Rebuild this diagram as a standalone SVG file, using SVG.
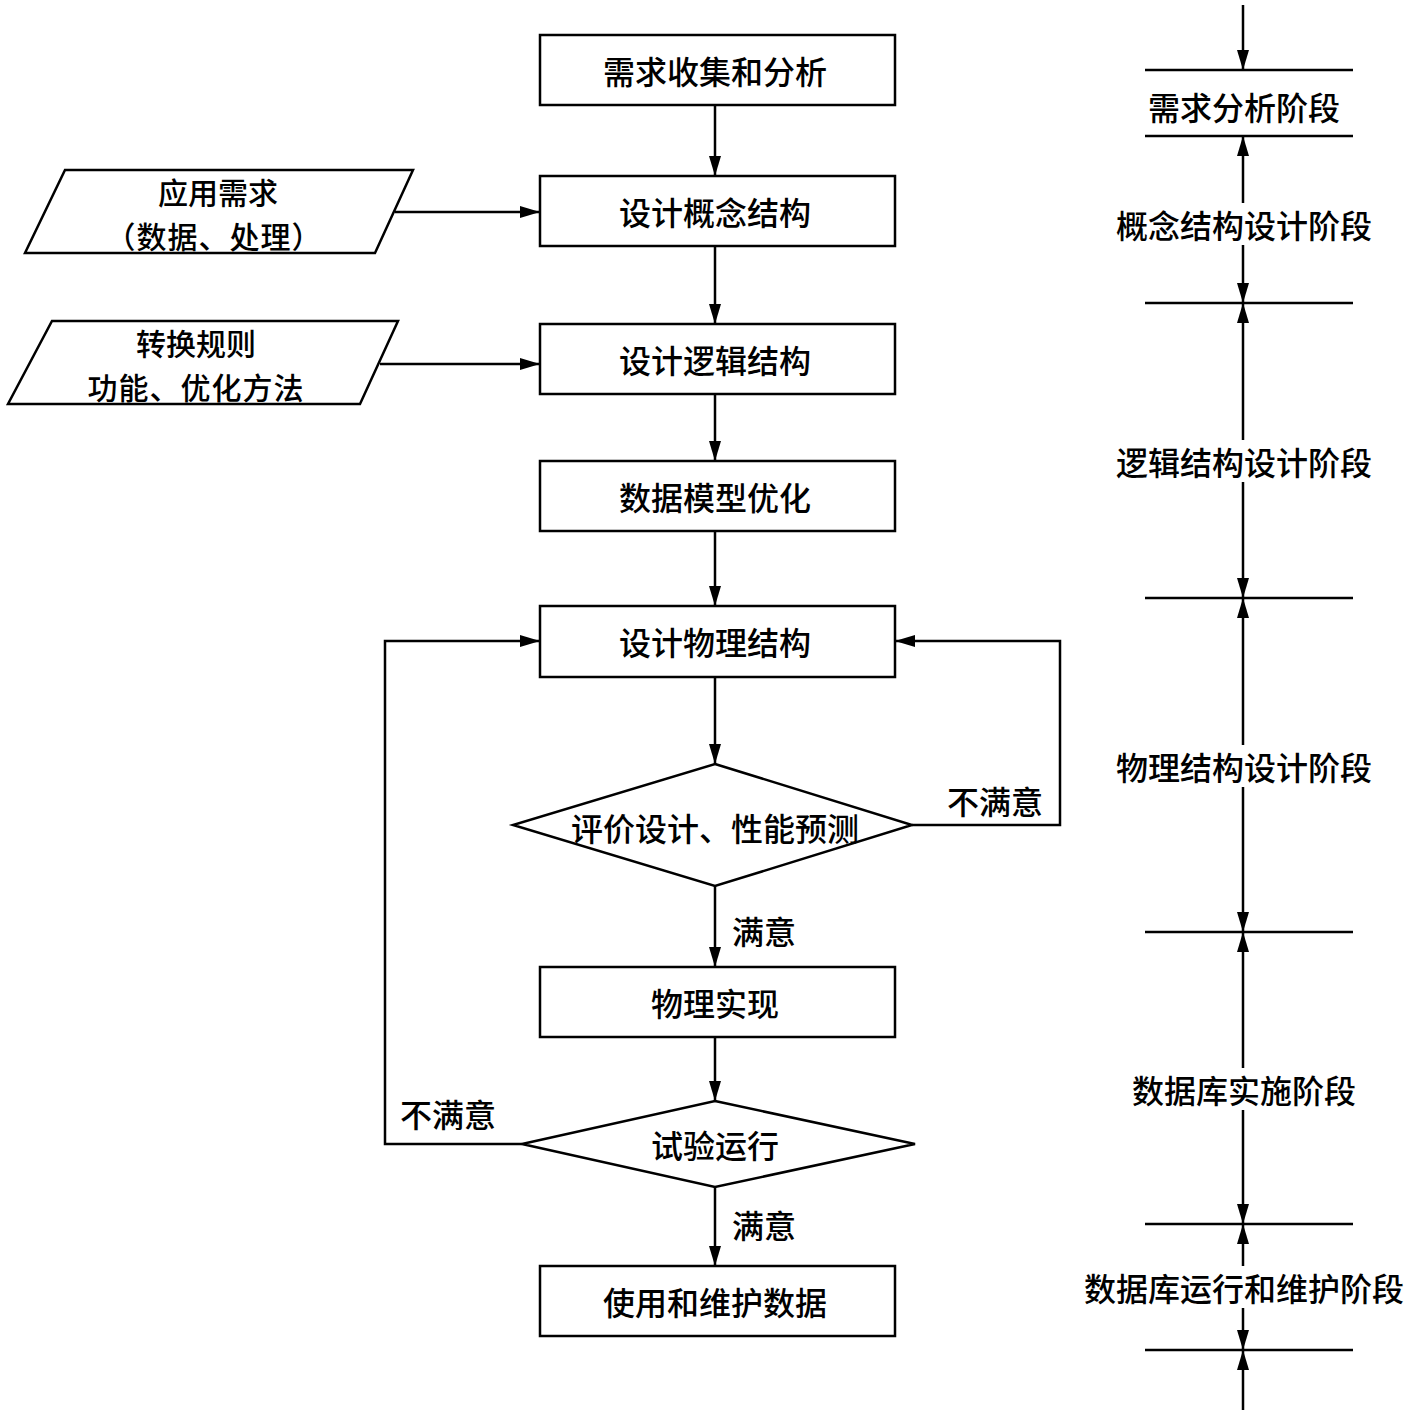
<svg xmlns="http://www.w3.org/2000/svg" width="1417" height="1410" viewBox="0 0 1417 1410">
<style>
.s{fill:#fff;stroke:#000;stroke-width:2.5}
.t{font-family:"Noto Sans CJK SC","Noto Sans",sans-serif;font-size:32px;font-weight:500;fill:#000;text-anchor:middle;dominant-baseline:central}
.p{font-size:30px}
.l{fill:none;stroke:#000;stroke-width:2.5}
.a{fill:none;stroke:#000;stroke-width:2.5;marker-end:url(#ah)}
</style>
<defs>
<marker id="ah" markerUnits="userSpaceOnUse" markerWidth="22" markerHeight="14" refX="20" refY="6" orient="auto"><path d="M0,0 L20,6 L0,12 z" fill="#000"/></marker>
</defs>
<rect width="1417" height="1410" fill="#fff"/>
<g id="connectors">
<line class="a" x1="715" y1="105" x2="715" y2="176"/>
<line class="a" x1="715" y1="246" x2="715" y2="324"/>
<line class="a" x1="715" y1="394" x2="715" y2="461"/>
<line class="a" x1="715" y1="531" x2="715" y2="606"/>
<line class="a" x1="715" y1="677" x2="715" y2="764"/>
<line class="a" x1="715" y1="886" x2="715" y2="967"/>
<line class="a" x1="715" y1="1037" x2="715" y2="1101"/>
<line class="a" x1="715" y1="1187" x2="715" y2="1266"/>
<line class="a" x1="395" y1="212" x2="540" y2="212"/>
<line class="a" x1="380" y1="364" x2="540" y2="364"/>
<polyline class="a" points="912,825 1060,825 1060,641 895,641"/>
<polyline class="a" points="522,1144 385,1144 385,641 540,641"/>
<text class="t" x="995" y="800">不满意</text>
<text class="t" x="448" y="1113">不满意</text>
<text class="t" x="764" y="930">满意</text>
<text class="t" x="764" y="1224">满意</text>
</g>
<g id="n1"><rect class="s" x="540" y="35" width="355" height="70"/><text class="t" x="715" y="70">需求收集和分析</text></g>
<g id="n2"><rect class="s" x="540" y="176" width="355" height="70"/><text class="t" x="715" y="211">设计概念结构</text></g>
<g id="n3"><rect class="s" x="540" y="324" width="355" height="70"/><text class="t" x="715" y="359">设计逻辑结构</text></g>
<g id="n4"><rect class="s" x="540" y="461" width="355" height="70"/><text class="t" x="715" y="496">数据模型优化</text></g>
<g id="n5"><rect class="s" x="540" y="606" width="355" height="71"/><text class="t" x="715" y="641">设计物理结构</text></g>
<g id="d1"><polygon class="s" points="715,764 912,825 715,886 513,825"/><text class="t" x="715" y="827">评价设计、性能预测</text></g>
<g id="n6"><rect class="s" x="540" y="967" width="355" height="70"/><text class="t" x="715" y="1002">物理实现</text></g>
<g id="d2"><polygon class="s" points="715,1101 915,1144 715,1187 522,1144"/><text class="t" x="715" y="1144">试验运行</text></g>
<g id="n7"><rect class="s" x="540" y="1266" width="355" height="70"/><text class="t" x="715" y="1301">使用和维护数据</text></g>
<g id="p1"><polygon class="s" points="65,170 413,170 375,253 25,253"/><text class="t p"><tspan x="218" y="191">应用需求</tspan><tspan x="214" y="235" letter-spacing="1">（数据、处理）</tspan></text></g>
<g id="p2"><polygon class="s" points="52,321 398,321 360,404 8,404"/><text class="t p"><tspan x="196" y="342">转换规则</tspan><tspan x="196" y="386" letter-spacing="1">功能、优化方法</tspan></text></g>
<g id="stages">
<line class="l" x1="1145" y1="70" x2="1353" y2="70"/>
<line class="l" x1="1145" y1="136" x2="1353" y2="136"/>
<line class="l" x1="1145" y1="303" x2="1353" y2="303"/>
<line class="l" x1="1145" y1="598" x2="1353" y2="598"/>
<line class="l" x1="1145" y1="932" x2="1353" y2="932"/>
<line class="l" x1="1145" y1="1224" x2="1353" y2="1224"/>
<line class="l" x1="1145" y1="1350" x2="1353" y2="1350"/>
<line class="a" x1="1243" y1="5" x2="1243" y2="70"/>
<line class="a" x1="1243" y1="203" x2="1243" y2="136"/>
<line class="a" x1="1243" y1="245" x2="1243" y2="303"/>
<line class="a" x1="1243" y1="440" x2="1243" y2="303"/>
<line class="a" x1="1243" y1="482" x2="1243" y2="598"/>
<line class="a" x1="1243" y1="745" x2="1243" y2="598"/>
<line class="a" x1="1243" y1="787" x2="1243" y2="932"/>
<line class="a" x1="1243" y1="1068" x2="1243" y2="932"/>
<line class="a" x1="1243" y1="1110" x2="1243" y2="1224"/>
<line class="a" x1="1243" y1="1266" x2="1243" y2="1224"/>
<line class="a" x1="1243" y1="1308" x2="1243" y2="1350"/>
<line class="a" x1="1243" y1="1410" x2="1243" y2="1350"/>
<text class="t" x="1244" y="106">需求分析阶段</text>
<text class="t" x="1244" y="224">概念结构设计阶段</text>
<text class="t" x="1244" y="461">逻辑结构设计阶段</text>
<text class="t" x="1244" y="766">物理结构设计阶段</text>
<text class="t" x="1244" y="1089">数据库实施阶段</text>
<text class="t" x="1244" y="1287">数据库运行和维护阶段</text>
</g>
</svg>
